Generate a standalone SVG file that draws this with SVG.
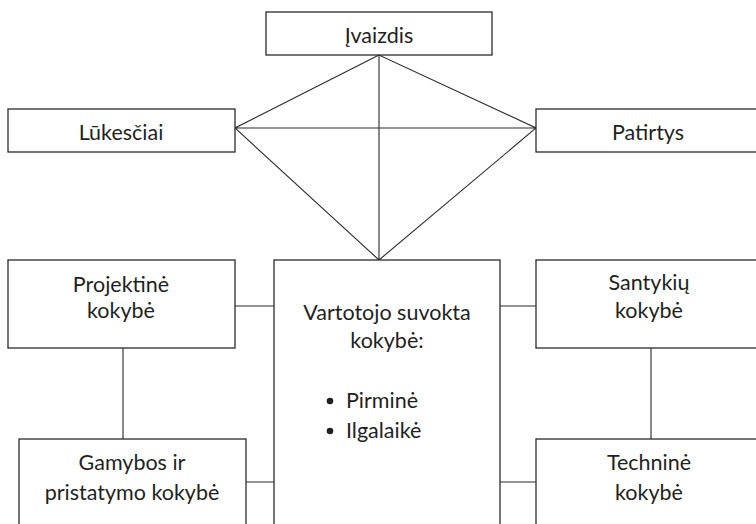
<svg xmlns="http://www.w3.org/2000/svg" width="756" height="524" viewBox="0 0 756 524">
<style>
.box{fill:#fff;stroke:#2b2b2b;stroke-width:1.3}
.ln{fill:none;stroke:#2b2b2b;stroke-width:1.1}
text{font-family:Lato,"Open Sans","Liberation Sans",sans-serif;font-size:21.5px;fill:#231f20;text-anchor:middle}
</style>
<rect width="756" height="524" fill="#fff"/>
<g id="connectors">
<path class="ln" d="M379,55 L235,128 L379,260 L536,128 Z M379,55 V260 M235,128 H536"/>
<path class="ln" d="M235,306 H274 M246,482 H274 M500,306 H536 M500,482 H536 M123,348 V439 M651,348 V439"/>
</g>
<g id="ivaizdis"><rect class="box" x="266" y="12" width="226" height="43"/><text x="379" y="43">Įvaizdis</text></g>
<g id="lukesciai"><rect class="box" x="8" y="109" width="227" height="43"/><text x="121" y="140">Lūkesčiai</text></g>
<g id="patirtys"><rect class="box" x="536" y="109" width="228" height="43"/><text x="648" y="140">Patirtys</text></g>
<g id="projektine"><rect class="box" x="8" y="260" width="227" height="88"/><text x="121" y="292">Projektinė</text><text x="121" y="318">kokybė</text></g>
<g id="vartotojo"><rect class="box" x="274" y="260" width="226" height="280"/><text x="387" y="320">Vartotojo suvokta</text><text x="387" y="348">kokybė:</text>
<circle cx="330" cy="401" r="3.3" fill="#231f20"/><text x="346" y="408" style="text-anchor:start">Pirminė</text>
<circle cx="330" cy="431" r="3.3" fill="#231f20"/><text x="346" y="438" style="text-anchor:start">Ilgalaikė</text></g>
<g id="gamybos"><rect class="box" x="19" y="439" width="227" height="100"/><text x="132" y="470">Gamybos ir</text><text x="132" y="500">pristatymo kokybė</text></g>
<g id="santykiu"><rect class="box" x="536" y="260" width="228" height="88"/><text x="649" y="290">Santykių</text><text x="649" y="318">kokybė</text></g>
<g id="technine"><rect class="box" x="536" y="439" width="228" height="100"/><text x="649" y="470">Techninė</text><text x="649" y="500">kokybė</text></g>
</svg>
